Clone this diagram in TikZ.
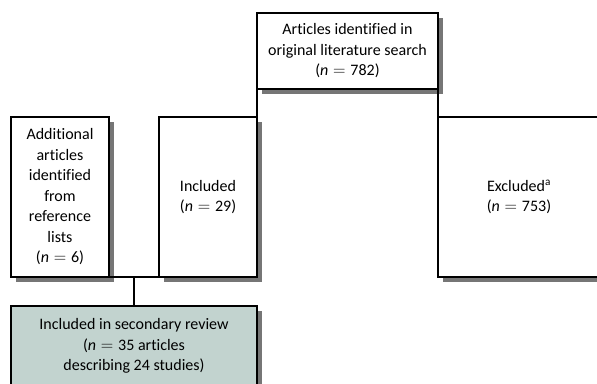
\documentclass[tikz,border=0pt]{standalone}
\usepackage{fontspec}
\setmainfont[Ligatures=NoCommon]{Carlito}
\usetikzlibrary{shadows,calc}
\definecolor{shadowgray}{RGB}{118,118,118}
\definecolor{tealfill}{RGB}{194,211,207}
\newcommand{\nEq}{\textit{n}\ensuremath{\;=\;}}
\begin{document}
\begin{tikzpicture}[x=1pt,y=-1pt,
  box/.style={draw=black, line width=1.6pt, fill=white, rectangle, inner sep=0pt, outer sep=0pt,
    anchor=north west, align=center, font=\fontsize{16}{20.5}\selectfont,
    drop shadow={shadow xshift=5pt, shadow yshift=-5pt, fill=shadowgray, opacity=1}},
  link/.style={draw=black, line width=1.6pt}]
\useasboundingbox (0,0) rectangle (597,383);
\clip (0,0) rectangle (597,383);
\node[box, minimum width=181pt, minimum height=76pt] (top) at (257,13)
  {Articles identified in\\original literature search\\(\nEq 782)};
\node[box, minimum width=98pt, minimum height=160pt] (add) at (11,117)
  {Additional\\articles\\identified\\from\\reference\\lists\\(\nEq 6)};
\node[box, minimum width=98pt, minimum height=160pt] (inc) at (159,117)
  {Included\\(\nEq 29)};
\node[box, minimum width=162pt, minimum height=160pt] (exc) at (438,117)
  {Excluded\textsuperscript{a}\\(\nEq 753)};
\node[box, fill=tealfill, minimum width=246pt, minimum height=80pt] (sec) at (11,306)
  {Included in secondary review\\(\nEq 35 articles\\describing 24 studies)};
\draw[link] (top.south west) -- (inc.north east);
\draw[link] (top.south east) -- (exc.north west);
\draw[link] (add.south east) -- (inc.south west);
\draw[link] (sec.north) -- (sec.north |- add.south);
\end{tikzpicture}
\end{document}
